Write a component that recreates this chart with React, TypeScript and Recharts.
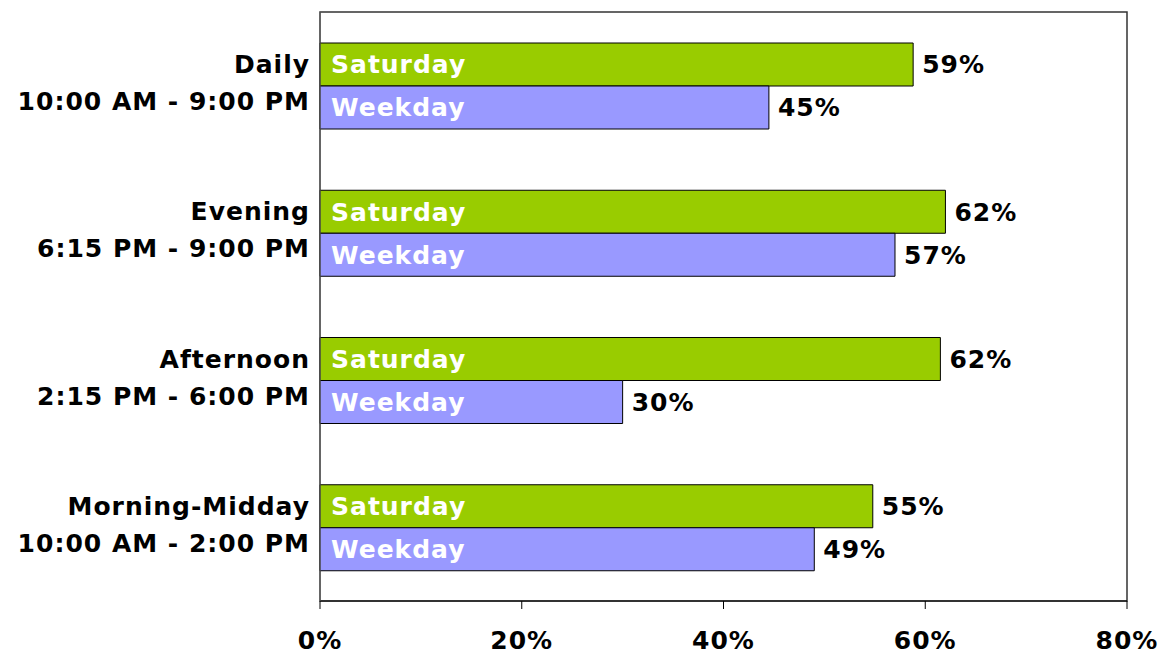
import { BarChart, Bar, XAxis, YAxis, LabelList, ReferenceArea } from 'recharts';

const periods = ['Daily', 'Evening', 'Afternoon', 'Morning-Midday'];
const hours = ['10:00 AM - 9:00 PM', '6:15 PM - 9:00 PM', '2:15 PM - 6:00 PM', '10:00 AM - 2:00 PM'];
const saturday = [58.8, 62, 61.5, 54.8];
const weekday = [44.5, 57, 30, 49];
const xTicks = [0, 20, 40, 60, 80];

const data = periods.map((p, i) => ({
    period: p,
    hours: hours[i],
    Saturday: saturday[i],
    Weekday: weekday[i],
}));

const FONT = 'Verdana, "DejaVu Sans", sans-serif';
const SIZE = 25;
const SPACING = 1;

// eslint-disable-next-line @typescript-eslint/no-explicit-any
function PeriodTick({ x, y, payload, index }: any) {
    const row = data[index] ?? data.find(d => d.period === payload.value);
    return (
        <g>
            <text x={x} y={y - 21} textAnchor="end" dominantBaseline="central" letterSpacing={SPACING}
                fontFamily={FONT} fontWeight="bold" fontSize={SIZE} fill="#000">
                {payload.value}
            </text>
            <text x={x} y={y + 16} textAnchor="end" dominantBaseline="central" letterSpacing={SPACING}
                fontFamily={FONT} fontWeight="bold" fontSize={SIZE} fill="#000">
                {row?.hours}
            </text>
        </g>
    );
}

const valueLabel = { fontFamily: FONT, fontWeight: 'bold', fontSize: SIZE, fill: '#000', letterSpacing: SPACING };
const nameLabel = { fontFamily: FONT, fontWeight: 'bold', fontSize: SIZE, fill: '#fff', letterSpacing: SPACING };

export default function App() {
    return (
        <div style={{ position: 'absolute', left: 0, top: 0, background: '#fff' }}>
            <BarChart
                width={1163}
                height={654}
                data={data}
                layout="vertical"
                margin={{ top: 12, right: 36, bottom: 0, left: 0 }}
                barCategoryGap={31}
                barGap={0}
            >
                <ReferenceArea x1={0} x2={80} fill="none" stroke="#333" strokeWidth={1.5} ifOverflow="visible" />
                <XAxis
                    type="number"
                    domain={[0, 80]}
                    ticks={xTicks}
                    tickFormatter={(v) => `${v}%`}
                    height={53}
                    stroke="#000"
                    tickSize={8}
                    tickMargin={22}
                    tick={{ fontFamily: FONT, fontWeight: 'bold', fontSize: SIZE, fill: '#000', letterSpacing: SPACING }}
                />
                <YAxis
                    type="category"
                    dataKey="period"
                    width={320}
                    tickLine={false}
                    stroke="#666"
                    tickMargin={4}
                    tick={<PeriodTick />}
                />
                <Bar dataKey="Saturday" fill="#99cc00" stroke="#000" strokeWidth={1} isAnimationActive={false}>
                    <LabelList valueAccessor={() => 'Saturday'} position="insideLeft" offset={11} style={nameLabel} />
                    <LabelList dataKey="Saturday" position="right" offset={9}
                        formatter={(v: number) => `${Math.round(v)}%`} style={valueLabel} />
                </Bar>
                <Bar dataKey="Weekday" fill="#9999ff" stroke="#000" strokeWidth={1} isAnimationActive={false}>
                    <LabelList valueAccessor={() => 'Weekday'} position="insideLeft" offset={11} style={nameLabel} />
                    <LabelList dataKey="Weekday" position="right" offset={9}
                        formatter={(v: number) => `${Math.round(v)}%`} style={valueLabel} />
                </Bar>
            </BarChart>
        </div>
    );
}
